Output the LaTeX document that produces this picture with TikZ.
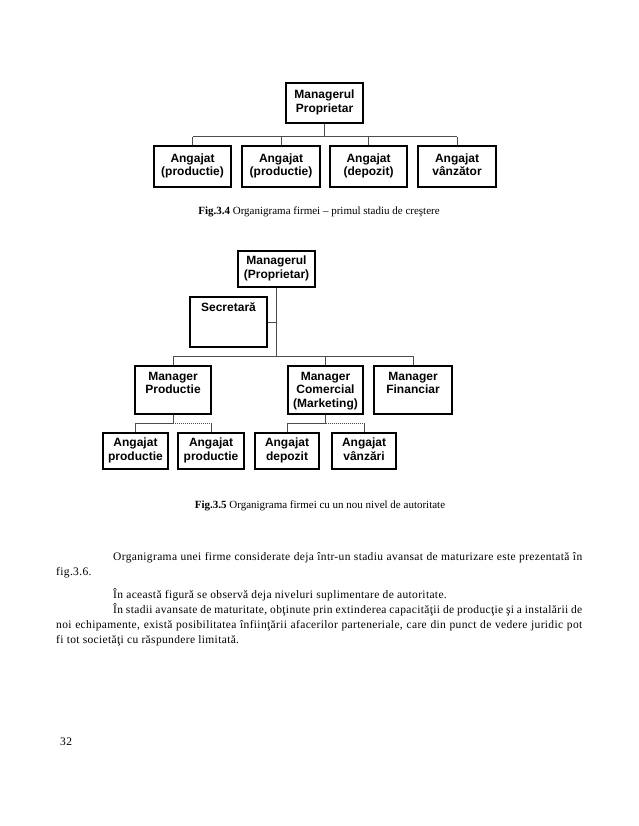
\documentclass[tikz,border=0pt]{standalone}
\usepackage{fontspec}
\setmainfont{Liberation Serif}
\setsansfont{Liberation Sans}
\newfontfamily\bodyfont[LetterSpace=3]{Liberation Serif}
\newcommand{\tbox}[3]{\parbox[c][#1pt][t]{#2pt}{\centering #3}}
\newcommand{\twol}[2]{\strut #1\\#2\strut}
\begin{document}
\begin{tikzpicture}[x=1pt,y=-1pt,
  orgbox/.style={draw=black, line width=1.8pt, inner sep=0pt, align=center,
    font=\fontsize{12}{13.5}\selectfont\sffamily\bfseries},
  conn/.style={draw=black!70, line width=1pt},
  dotconn/.style={draw=black!70, line width=1pt, dash pattern=on 1pt off 1pt},
  body/.style={anchor=base west, inner sep=0pt, font=\bodyfont\fontsize{11.5}{13}\selectfont},
  figcaption/.style={anchor=base, inner sep=0pt, font=\fontsize{11}{13}\selectfont}]
\useasboundingbox[fill=white] (0,0) rectangle (638,826);

% ---------- Fig 3.4 ----------
\node[orgbox, minimum width=77pt, minimum height=40pt] (m1) at (324.5,103) {\twol{Managerul}{Proprietar}};
\node[orgbox, minimum width=77pt, minimum height=41pt] (a1) at (192.5,166.5) {\twol{Angajat}{(productie)}};
\node[orgbox, minimum width=78pt, minimum height=41pt] (a2) at (281,166.5) {\twol{Angajat}{(productie)}};
\node[orgbox, minimum width=77pt, minimum height=41pt] (a3) at (368.5,166.5) {\twol{Angajat}{(depozit)}};
\node[orgbox, minimum width=78pt, minimum height=41pt] (a4) at (457,166.5) {\twol{Angajat}{vânzător}};
\coordinate (busA) at (0,137);
\draw[conn] (m1.south) -- (m1.south |- busA);
\draw[conn] (a1.north |- busA) -- (a4.north |- busA);
\foreach \n in {a1,a2,a3,a4} \draw[conn] (\n.north) -- (\n.north |- busA);

\node[figcaption] (cap1) at (319,214.5) {\textbf{Fig.3.4} Organigrama firmei – primul stadiu de creştere};

% ---------- Fig 3.5 ----------
\node[orgbox, minimum width=77pt, minimum height=36pt] (t) at (276.5,269) {\twol{Managerul}{(Proprietar)}};
\node[orgbox, minimum width=77pt, minimum height=50pt] (sec) at (228.5,322) {\tbox{39}{72}{Secretară}};
\node[orgbox, minimum width=76pt, minimum height=48pt] (mp) at (173,390) {\tbox{36}{72}{Manager\\Productie}};
\node[orgbox, minimum width=75pt, minimum height=48pt] (mc) at (325.5,390) {\tbox{36}{72}{Manager\\Comercial\\(Marketing)}};
\node[orgbox, minimum width=78pt, minimum height=48pt] (mf) at (413,390) {\tbox{36}{72}{Manager\\Financiar}};
\node[orgbox, minimum width=65pt, minimum height=36pt] (b1) at (135.5,451) {\twol{Angajat}{productie}};
\node[orgbox, minimum width=66pt, minimum height=36pt] (b2) at (211,451) {\twol{Angajat}{productie}};
\node[orgbox, minimum width=64pt, minimum height=36pt] (b3) at (287,451) {\twol{Angajat}{depozit}};
\node[orgbox, minimum width=64pt, minimum height=36pt] (b4) at (364,451) {\twol{Angajat}{vânzări}};
\coordinate (busB) at (0,356);
\coordinate (subB) at (0,423);
\draw[conn] (t.south) -- (t.south |- busB);
\draw[conn] (sec.east) -- (sec.east -| t.south);
\draw[conn] (mp.north |- busB) -- (mf.north |- busB);
\foreach \n in {mp,mc,mf} \draw[conn] (\n.north) -- (\n.north |- busB);
% production group
\draw[conn] (mp.south) -- (mp.south |- subB);
\draw[conn] (b1.north |- subB) -- (mp.south |- subB);
\draw[dotconn] (mp.south |- subB) -- (b2.north |- subB);
\draw[conn] (b1.north) -- (b1.north |- subB);
\draw[conn] (b2.north) -- (b2.north |- subB);
% commercial group
\draw[conn] (mc.south) -- (mc.south |- subB);
\draw[conn] (b3.north |- subB) -- (mc.south |- subB);
\draw[dotconn] (mc.south |- subB) -- (b4.north |- subB);
\draw[conn] (b3.north) -- (b3.north |- subB);
\draw[conn] (b4.north) -- (b4.north |- subB);

\node[figcaption] (cap2) at (320,508.5) {\textbf{Fig.3.5} Organigrama firmei cu un nou nivel de autoritate};

% ---------- body text ----------
\node[body] (l1) at (113,560) {\makebox[469pt][s]{Organigrama unei firme considerate deja într-un stadiu avansat de maturizare este prezentată în}};
\node[body] (l2) at (56,575) {fig.3.6.};
\node[body] (l3) at (113,598) {În această figură se observă deja niveluri suplimentare de autoritate.};
\node[body] (l4) at (113,613) {\makebox[469pt][s]{În stadii avansate de maturitate, obţinute prin extinderea capacităţii de producţie şi a instalării de}};
\node[body] (l5) at (56,628) {\makebox[526pt][s]{noi echipamente, există posibilitatea înfiinţării afacerilor parteneriale, care din punct de vedere juridic pot}};
\node[body] (l6) at (56,643) {fi tot societăţi cu răspundere limitată.};

\node[body] (pg) at (60,745) {32};
\end{tikzpicture}
\end{document}
